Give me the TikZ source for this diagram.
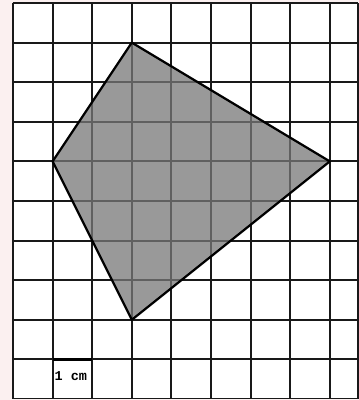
\documentclass[tikz,border=0pt]{standalone}
\usepackage{fontspec}
\newfontfamily\labelfont{Liberation Mono}
\definecolor{pinkbg}{RGB}{251,240,240}
\definecolor{gridline}{RGB}{25,25,25}
\definecolor{shade}{RGB}{120,120,120}
\begin{document}
\begin{tikzpicture}[x=1pt,y=-1pt,
  gridln/.style={draw=gridline,line width=1.9pt},
  edgeln/.style={draw=black,line width=2.2pt,line join=round},
  shapefill/.style={fill=shade,fill opacity=0.75}]
\useasboundingbox (0,0) rectangle (359,400);
\fill[pinkbg] (0,0) rectangle (359,400);
\fill[white] (12.5,3) rectangle (358,398.5);
\foreach \i in {0,...,8} \draw[gridln] ({13+39.6*\i},3) -- ({13+39.6*\i},398.5);
\draw[gridln] (358,3) -- (358,398.5);
\foreach \j in {0,...,9} \draw[gridln] (12.5,{3+39.6*\j}) -- (358,{3+39.6*\j});
\draw[gridln] (12.5,398.5) -- (358,398.5);
\coordinate (T) at (131.8,42.6);
\coordinate (L) at (52.6,161.4);
\coordinate (R) at (329.8,161.4);
\coordinate (B) at (131.8,319.8);
\fill[shapefill] (T) -- (R) -- (B) -- (L) -- cycle;
\draw[edgeln] (T) -- (R) -- (B) -- (L) -- cycle;
\coordinate (ca) at (52.6,359.4);
\coordinate (cb) at (92.2,359.4);
\draw[line width=3.2pt] (ca) -- (cb);
\node[anchor=west,inner sep=0pt] (lbl) at (54.5,376.5) {\labelfont\bfseries\fontsize{13.5}{13.5}\selectfont 1 cm};
\end{tikzpicture}
\end{document}
